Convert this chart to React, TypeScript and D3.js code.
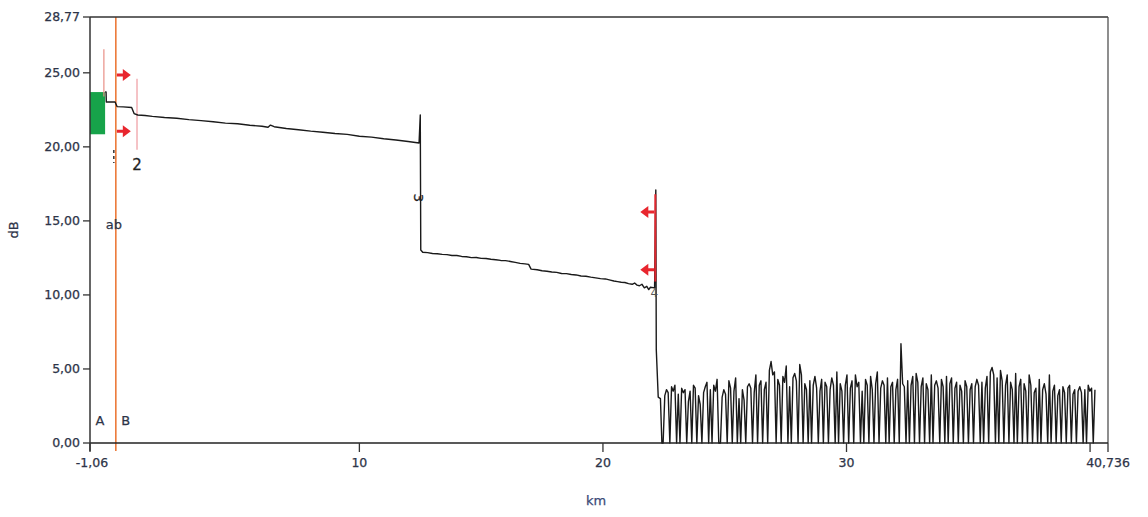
import React from "react";
import * as d3 from "d3";

// ---- data ----
const xDomain: [number, number] = [-1.06, 40.736];
const yDomain: [number, number] = [0, 28.77];
const xTicks = [-1.06, 10, 20, 30, 40, 40.736];
const xTickLabels = ["-1,06", "10", "20", "30", "", "40,736"];
const yTicks = [0, 5, 10, 15, 20, 25, 28.77];
const yTickLabels = ["0,00", "5,00", "10,00", "15,00", "20,00", "25,00", "28,77"];

// trace before first event and first fibre section [km, dB]
const section1: [number, number][] = [
  [-0.44, 23.7], [-0.4, 23.7], [-0.39, 23.03], [-0.03, 23.03], [0.05, 22.72], [0.3, 22.7],
  [0.65, 22.66], [0.75, 22.25], [0.9, 22.15], [1.2, 22.12], [1.5, 22.06], [2.0, 21.98],
  [2.5, 21.93], [3.0, 21.84], [3.5, 21.77], [4.0, 21.7], [4.5, 21.6], [5.0, 21.56],
  [5.5, 21.46], [6.0, 21.39], [6.25, 21.32], [6.35, 21.47], [6.5, 21.36], [7.0, 21.24],
  [7.5, 21.16], [8.0, 21.06], [8.5, 20.99], [9.0, 20.9], [9.5, 20.84], [10.0, 20.72],
  [10.5, 20.66], [11.0, 20.55], [11.5, 20.46], [12.0, 20.36], [12.45, 20.26],
];
// event 3 reflection and second section
const section2: [number, number][] = [
  [12.5, 22.15], [12.52, 13.03], [12.6, 12.88], [12.8, 12.86], [13.0, 12.8], [13.2, 12.78],
  [13.4, 12.74], [13.6, 12.72], [13.8, 12.66], [14.0, 12.66], [14.2, 12.6], [14.4, 12.58],
  [14.6, 12.52], [14.8, 12.53], [15.0, 12.47], [15.2, 12.46], [15.4, 12.41], [15.6, 12.38],
  [15.8, 12.33], [16.0, 12.32], [16.2, 12.26], [16.4, 12.2], [16.6, 12.13], [16.8, 12.1],
  [16.95, 12.06], [17.05, 11.74], [17.3, 11.7], [17.5, 11.63], [17.7, 11.6], [17.9, 11.55],
  [18.1, 11.52], [18.3, 11.45], [18.5, 11.44], [18.7, 11.38], [18.9, 11.35], [19.1, 11.28],
  [19.3, 11.26], [19.5, 11.2], [19.7, 11.15], [19.9, 11.1], [20.1, 11.08], [20.3, 11.0],
  [20.45, 10.94], [20.6, 10.9], [20.75, 10.86], [20.9, 10.84], [21.05, 10.76], [21.2, 10.72],
  [21.3, 10.8], [21.4, 10.66], [21.5, 10.62], [21.6, 10.72], [21.7, 10.48], [21.8, 10.58],
  [21.88, 10.36], [21.95, 10.52], [22.12, 10.48],
];
// event 4 (end reflection)
const section3: [number, number][] = [
  [22.17, 17.09], [22.19, 6.3], [22.27, 3.1], [22.36, 3.0], [22.42, 0],
];
// noise floor after the fibre end
const noiseStartKm = 22.47;
const noiseEndKm = 40.2;
const noiseValues = [
  0, 3.2, 3.6, 3.4, 0, 3.8, 3.5, 3.9, 0, 3.3, 0, 3.7, 3.4, 3.6, 0, 2.8, 3.5, 0, 3.9, 3.7,
  0, 3.2, 2.6, 0, 3.4, 3.8, 4.1, 0, 3.6, 0, 3.9, 3.5, 4.3, 0, 0, 3.1, 3.6, 3.3, 0, 4.2,
  3.7, 0, 3.5, 4.4, 0, 3.0, 0, 3.6, 2.9, 0, 3.8, 4.0, 3.7, 0, 3.4, 4.6, 0, 3.9,
  4.2, 0, 3.6, 4.1, 0, 4.9, 5.5, 4.6, 4.8, 0, 4.3, 3.9, 0, 4.5, 4.1, 5.2, 0, 3.8, 0, 4.4,
  4.7, 4.2, 0, 5.3, 4.6, 0, 4.0, 3.6, 0, 4.2, 0, 3.9, 4.5, 3.7, 0, 3.5, 4.3, 0, 4.1, 3.8,
  0, 3.6, 4.4, 3.9, 0, 4.8, 0, 4.0, 3.5, 0, 3.9, 4.6, 0,
  3.7, 4.2, 0, 4.6, 3.8, 4.1, 0, 3.5, 0, 4.3, 3.9, 0, 4.5, 3.6, 0, 4.0, 4.8, 0, 3.7, 4.2,
  3.9, 0, 4.4, 0, 3.8, 4.1, 0, 3.6, 4.3, 0, 6.7, 4.0, 3.8, 0, 4.2, 0, 3.9, 4.5, 0, 4.7,
  4.1, 0, 3.8, 4.4, 0, 4.0, 3.6, 0, 4.6, 0, 3.9, 4.2, 3.7, 0,
  4.3, 3.8, 0, 4.5, 0, 4.0, 4.4, 0, 3.7, 4.1, 0, 3.9, 3.5, 0, 4.2, 3.8, 0, 3.6, 4.0, 0,
  3.8, 4.3, 3.9, 0, 4.1, 0, 3.7, 4.5, 0, 4.8, 5.1, 4.6, 0, 4.4, 0, 4.9, 4.2, 0, 3.9, 4.6,
  0, 4.1, 3.6, 0, 4.7, 0, 3.8, 4.3, 0, 4.0, 3.5, 0,
  4.6, 3.9, 0, 3.4, 3.7, 0, 4.3, 0, 3.6, 4.0, 3.3, 0, 4.6, 0, 3.5, 3.9, 0, 3.2, 3.6, 0,
  3.8, 3.4, 0, 3.7, 3.9, 0, 3.3, 3.6, 0, 3.5, 3.8, 3.4, 0, 3.6, 0, 3.9, 3.5, 3.7, 0, 3.6,
];

// markers [km]
const launchBox = { km0: -1.06, km1: -0.44, dB0: 20.85, dB1: 23.7 };
const markerA = { km: -0.49, dB0: 23.4, dB1: 26.6 };
const markerB = { km: 0.0 };
const marker2 = { km: 0.87, dB0: 19.8, dB1: 24.6 };
const marker4 = { km: 22.15, dB0: 10.9, dB1: 16.8 };
const rightArrowsDB = [24.85, 21.05];
const leftArrowsDB = [15.6, 11.7];

const W = 1148;
const H = 517;
const FONT = "'DejaVu Sans', Verdana, sans-serif";
const TXT = "#2d3448";

export default function App() {
  const x = d3.scaleLinear().domain(xDomain).range([90, 1108]);
  const y = d3.scaleLinear().domain(yDomain).range([443, 17]);

  const step = (noiseEndKm - noiseStartKm) / (noiseValues.length - 1);
  const noise: [number, number][] = noiseValues.map((v, i) => [noiseStartKm + i * step, v]);
  const trace = [...section1, ...section2, ...section3, ...noise];
  const line = d3
    .line<[number, number]>()
    .x((d) => x(d[0]))
    .y((d) => y(d[1]));

  const arrow = (x0: number, yy: number, dir: number, key: string) => {
    const p = `M${x0},${yy - 1.5} L${x0 + dir * 6},${yy - 1.5} L${x0 + dir * 6},${yy - 6} L${x0 + dir * 14},${yy} L${x0 + dir * 6},${yy + 6} L${x0 + dir * 6},${yy + 1.5} L${x0},${yy + 1.5} Z`;
    return <path key={key} d={p} fill="#e8262e" />;
  };

  const x0 = x(xDomain[0]);
  const x1 = x(xDomain[1]);
  const yTop = y(yDomain[1]);
  const yBot = y(0);
  const lbl = { fontSize: 12.5, fill: TXT, stroke: TXT, strokeWidth: 0.25 };

  return (
    <svg
      width={W}
      height={H}
      style={{ position: "absolute", left: 0, top: 0, background: "#fff" }}
      fontFamily={FONT}
    >
      {/* launch box */}
      <rect
        x={x(launchBox.km0)}
        y={y(launchBox.dB1)}
        width={x(launchBox.km1) - x(launchBox.km0)}
        height={y(launchBox.dB0) - y(launchBox.dB1)}
        fill="#17a34a"
      />
      {/* marker lines */}
      <line x1={x(markerA.km)} x2={x(markerA.km)} y1={y(markerA.dB1)} y2={y(markerA.dB0)} stroke="#e98f86" strokeWidth={1.2} />
      <line x1={x(marker2.km)} x2={x(marker2.km)} y1={y(marker2.dB1)} y2={y(marker2.dB0)} stroke="#ee9aa0" strokeWidth={1.2} />
      <line x1={x(markerB.km)} x2={x(markerB.km)} y1={yTop} y2={yBot + 8} stroke="#ec7a3a" strokeWidth={1.6} />
      {rightArrowsDB.map((d, i) => arrow(x(markerB.km) + 1, y(d), 1, "r" + i))}

      {/* trace */}
      <path d={line(trace) || ""} fill="none" stroke="#1a1a1a" strokeWidth={1.4} strokeLinejoin="round" />

      {/* end marker */}
      <line x1={x(marker4.km)} x2={x(marker4.km)} y1={y(marker4.dB1)} y2={y(marker4.dB0)} stroke="#e0262e" strokeWidth={2} />
      {leftArrowsDB.map((d, i) => arrow(x(marker4.km) - 1, y(d), -1, "l" + i))}

      {/* frame / axes */}
      <line x1={x0} x2={x1} y1={yTop} y2={yTop} stroke="#333" strokeWidth={1.5} />
      <line x1={x1} x2={x1} y1={yTop} y2={yBot} stroke="#444" strokeWidth={1.2} />
      <line x1={x0} x2={x1} y1={yBot} y2={yBot} stroke="#222" strokeWidth={1.6} />
      <line x1={x0} x2={x0} y1={yTop} y2={yBot + 8} stroke="#333" strokeWidth={1.5} />

      {yTicks.map((t, i) => (
        <g key={"yt" + i}>
          <line x1={x0 - 7} x2={x0} y1={y(t)} y2={y(t)} stroke="#333" strokeWidth={1.3} />
          <text x={x0 - 10} y={y(t)} dy="0.35em" textAnchor="end" {...lbl}>
            {yTickLabels[i]}
          </text>
        </g>
      ))}
      {xTicks.map((t, i) => (
        <g key={"xt" + i}>
          <line x1={x(t)} x2={x(t)} y1={yBot} y2={yBot + 9} stroke="#333" strokeWidth={1.3} />
          {xTickLabels[i] && (
            <text x={x(t) + (i === 0 ? 2 : 0)} y={yBot + 24} textAnchor="middle" {...lbl}>
              {xTickLabels[i]}
            </text>
          )}
        </g>
      ))}
      <text x={596} y={505} textAnchor="middle" {...lbl} fontSize={13} fill="#3a4a78" stroke="#3a4a78">km</text>
      <text transform="translate(18,230) rotate(-90)" textAnchor="middle" {...lbl} fontSize={13}>dB</text>

      {/* event / marker labels */}
      <text x={x(markerA.km) - 4} y={425} textAnchor="middle" {...lbl} fontSize={13}>A</text>
      <text x={x(markerB.km) + 10} y={425} textAnchor="middle" {...lbl} fontSize={13}>B</text>
      <text x={x(markerB.km) - 2} y={229} textAnchor="middle" {...lbl} fontSize={13}>ab</text>
      <line x1={x(markerB.km) - 2} x2={x(markerB.km) - 2} y1={150} y2={163} stroke="#333" strokeWidth={1.5} strokeDasharray="3,3" />
      <text x={x(marker2.km)} y={170} textAnchor="middle" fontSize={15} fill="#222" stroke="#222" strokeWidth={0.3}>2</text>
      <text transform={`translate(${x(12.5) - 6},198) rotate(90)`} textAnchor="middle" fontSize={13} fill="#222" stroke="#222" strokeWidth={0.3}>3</text>
      <text x={x(marker4.km) - 1} y={297} textAnchor="middle" fontSize={12} fill="#555">4</text>
    </svg>
  );
}
